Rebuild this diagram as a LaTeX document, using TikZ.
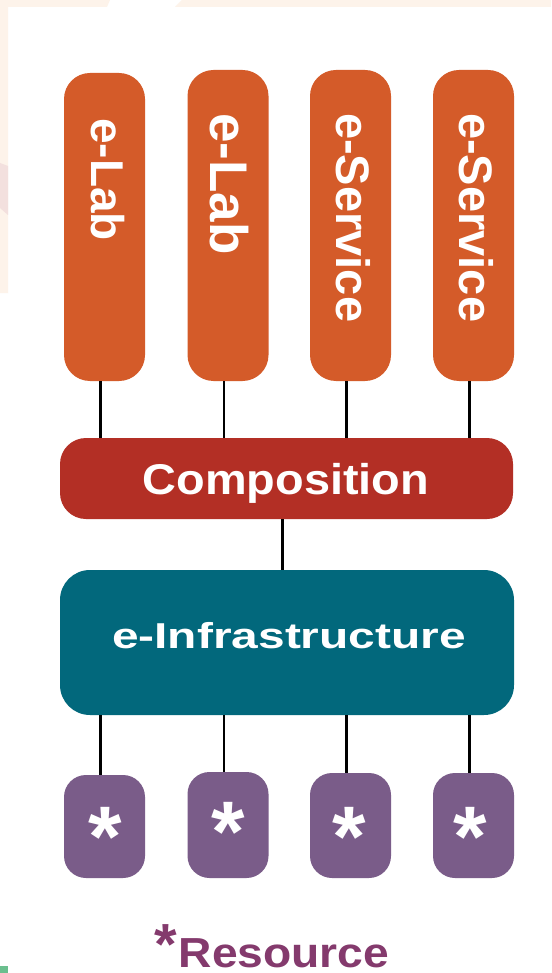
\documentclass[tikz,border=0pt]{standalone}
\usepackage{fontspec}
\setmainfont{Liberation Sans}
\definecolor{labOrange}{HTML}{D45B29}
\definecolor{compRed}{HTML}{B32F25}
\definecolor{infraTeal}{HTML}{02687C}
\definecolor{resPurple}{HTML}{7A5C89}
\definecolor{legendPlum}{HTML}{843A6D}
\definecolor{paper}{HTML}{FDF3EA}
\definecolor{blush}{HTML}{F3E0DE}
\definecolor{leaf}{HTML}{6BBF8E}
\tikzset{
  pill/.style={fill=labOrange, rounded corners=26pt, minimum width=81pt, inner sep=0pt},
  resbox/.style={fill=resPurple, rounded corners=22pt, minimum width=81pt, inner sep=0pt},
  bar/.style={inner sep=0pt, minimum width=454pt},
  vlabel/.style={text=white, font=\bfseries, rotate=-90, anchor=base west, inner sep=0pt},
  hlabel/.style={text=white, font=\bfseries, anchor=base, inner sep=0pt},
  star/.style={text=white, font=\bfseries\fontsize{86}{86}\selectfont, anchor=base, inner sep=0pt},
  link/.style={line width=2.6pt, black}
}
\begin{document}
\begin{tikzpicture}[x=1pt, y=-1pt]
  \useasboundingbox (0,0) rectangle (551,973);
  % page background with its light borders
  \fill[white] (0,0) rectangle (551,973);
  \fill[paper] (0,0) -- (110,0) -- (107,7) -- (8,7) -- (8,293) -- (0,293) -- cycle;
  \fill[paper] (182,0) -- (551,0) -- (551,7) -- (175,7) -- cycle;
  \fill[blush] (0,163) -- (8,166) -- (8,215) -- (0,208) -- cycle;
  \fill[leaf] (0,966) rectangle (8,973);

  % top row: labs and services
  \node[pill, minimum height=308pt] (p1) at (104.5,227) {};
  \node[pill, minimum height=311pt] (p2) at (228,225.5) {};
  \node[pill, minimum height=311pt] (p3) at (350.5,225.5) {};
  \node[pill, minimum height=311pt] (p4) at (473.5,225.5) {};
  \node[vlabel, font=\bfseries\fontsize{46}{46}\selectfont] (t1) at (91,118) {e-Lab};
  \node[vlabel, font=\bfseries\fontsize{53}{53}\selectfont] (t2) at (210,113) {e-Lab};
  \node[vlabel, font=\bfseries\fontsize{47}{47}\selectfont] (t3) at (336,113) {e-Service};
  \node[vlabel, font=\bfseries\fontsize{47}{47}\selectfont] (t4) at (459,113) {e-Service};

  % composition layer
  \node[bar, fill=compRed, rounded corners=26pt, minimum width=453pt, minimum height=81pt] (comp) at (286.5,478.5) {};
  \node[hlabel, font=\bfseries\fontsize{43}{43}\selectfont] (compT) at (286,494)
    {\scalebox{1.09}[1]{Composition}};

  % infrastructure layer
  \node[bar, fill=infraTeal, rounded corners=30pt, minimum height=145pt] (infra) at (287,642.5) {};
  \node[hlabel, font=\bfseries\fontsize{36}{36}\selectfont] (infraT) at (289,648)
    {\scalebox{1.33}[1]{e-Infrastructure}};

  % resources
  \node[resbox, minimum height=103pt] (r1) at (104.5,826.5) {};
  \node[resbox, minimum height=106pt] (r2) at (228,825) {};
  \node[resbox, minimum height=105pt] (r3) at (350.5,825.5) {};
  \node[resbox, minimum height=105pt] (r4) at (473.5,825.5) {};
  \node[star] (s1) at (105,866) {*};
  \node[star] (s2) at (228,861) {*};
  \node[star] (s3) at (349,866) {*};
  \node[star] (s4) at (470,866) {*};

  % connectors
  \foreach \n in {p1,p2,p3,p4}
    \draw[link] ([xshift=-4pt]\n.south) -- ([xshift=-4pt]\n.south |- comp.north);
  \draw[link] ([xshift=-4pt]comp.south) -- ([xshift=-4pt]comp.south |- infra.north);
  \foreach \n in {r1,r2,r3,r4}
    \draw[link] ([xshift=-4pt]\n.north |- infra.south) -- ([xshift=-4pt]\n.north);

  % legend
  \node[anchor=base west, inner sep=0pt, text=legendPlum, font=\bfseries] (legend) at (154,967)
    {\raisebox{3pt}{\fontsize{58}{58}\selectfont*}\kern2pt\scalebox{1.1}[1]{\fontsize{42}{42}\selectfont Resource}};
\end{tikzpicture}
\end{document}
